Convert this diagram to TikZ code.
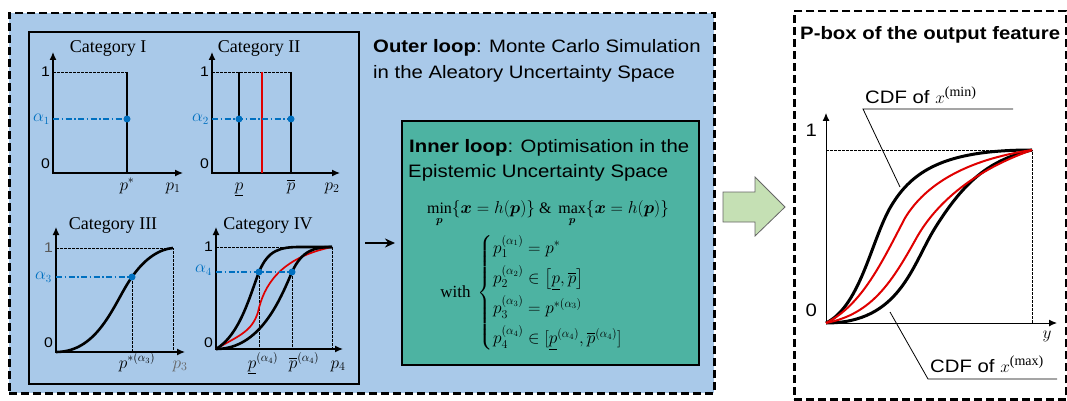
\documentclass[tikz,border=0pt]{standalone}
\usepackage{amsmath}
\usepackage{fontspec}
\setmainfont{Liberation Serif}
\newfontfamily\sfarial[FakeStretch=1.13]{Liberation Sans}
\usetikzlibrary{arrows.meta}
\definecolor{bgblue}{HTML}{A9C9E9}
\definecolor{tealbox}{HTML}{4DB3A2}
\definecolor{ablue}{HTML}{0070C0}
\definecolor{agreen}{HTML}{C5E0B4}
\definecolor{cred}{HTML}{E00000}
\begin{document}
\begin{tikzpicture}[x=1pt,y=-1pt,
  axis/.style={line width=1.3pt,{Latex[length=8pt,width=7pt]}-{Latex[length=8pt,width=7pt]}},
  guide/.style={line width=0.5pt,dash pattern=on 2.5pt off 1.5pt},
  alphaline/.style={ablue,line width=1.3pt,dash pattern=on 6pt off 2.5pt on 1.5pt off 2.5pt},
  dot/.style={circle,fill=ablue,inner sep=0pt,minimum size=7pt},
  cdf/.style={line width=2.6pt},
  rcdf/.style={cred,line width=1.7pt},
  ttl/.style={font=\fontsize{18}{20}\selectfont,anchor=base,inner sep=0pt},
  num/.style={font=\sfarial\fontsize{14}{16}\selectfont,anchor=east,inner sep=0pt},
  alab/.style={text=ablue,font=\fontsize{16}{18}\selectfont,anchor=east,inner sep=0pt},
  plab/.style={font=\fontsize{17}{19}\selectfont,anchor=base,inner sep=0pt},
  sftxt/.style={font=\sfarial\fontsize{18}{20}\selectfont,anchor=base west,inner sep=0pt},
  bigdash/.style={line width=2.5pt,dash pattern=on 8pt off 4pt},
  leader/.style={line width=0.8pt}
]
\useasboundingbox (0,0) rectangle (1067,401);
% ---------- frames ----------
\node[draw=black,fill=bgblue,bigdash,minimum width=705pt,minimum height=380pt,anchor=north west,inner sep=0pt] (outer) at (8,12) {};
\node[draw=black,line width=2pt,minimum width=330pt,minimum height=352pt,anchor=north west,inner sep=0pt] (graphs) at (28,31) {};
\node[draw=black,fill=tealbox,line width=2pt,minimum width=297pt,minimum height=244pt,anchor=north west,inner sep=0pt] (inner) at (401,120) {};
\node[draw=black,fill=white,bigdash,minimum width=272pt,minimum height=388pt,anchor=north west,inner sep=0pt] (pbox) at (793,10) {};

% ---------- Category I ----------
\node[ttl] (t1) at (108,53) {Category I};
\draw[guide] (53,72) -- (127,72);
\draw[axis] (53,52) -- (53,173) -- (183,173);
\draw[cdf] (127,72) -- (127,173);
\draw[alphaline] (53,119) -- (127,119);
\node[dot] (d1) at (127,119) {};
\node[num] (one1) at (50,72) {1};
\node[num] (zero1) at (50,164) {0};
\node[alab] (a1) at (50,119) {$\alpha_1$};
\node[plab] (ps1) at (127,190) {$p^{*}$};
\node[plab] (px1) at (173,190) {$p_1$};

% ---------- Category II ----------
\node[ttl] (t2) at (259,53) {Category II};
\draw[guide] (212,72) -- (291,72);
\draw[axis] (212,52) -- (212,173) -- (340,173);
\draw[cdf] (239,72) -- (239,173);
\draw[cdf] (291,72) -- (291,173);
\draw[rcdf] (262,72) -- (262,173);
\draw[alphaline] (212,119) -- (291,119);
\node[dot] (d2a) at (239,119) {};
\node[dot] (d2b) at (291,119) {};
\node[num] (one2) at (209,72) {1};
\node[num] (zero2) at (209,164) {0};
\node[alab] (a2) at (209,119) {$\alpha_2$};
\node[plab] (pl2) at (239,190) {$\underline{p}$};
\node[plab] (pu2) at (291,190) {$\overline{p}$};
\node[plab] (px2) at (332,190) {$p_2$};

% ---------- Category III ----------
\node[ttl] (t3) at (113,229) {Category III};
\draw[guide] (56,248) -- (173,248) -- (173,352);
\draw[guide] (132,277) -- (132,352);
\draw[axis] (56,227) -- (56,352) -- (185,352);
\draw[cdf] (56,352) .. controls (100,352) and (115,300) .. (132,277) .. controls (145,258) and (160,249) .. (173,248);
\draw[alphaline] (56,277) -- (132,277);
\node[dot] (d3) at (132,277) {};
\node[num,text=black!65] (one3) at (53,248) {1};
\node[num] (zero3) at (53,343) {0};
\node[alab] (a3) at (52,277) {$\alpha_3$};
\node[plab] (ps3) at (137,368) {$p^{*(\alpha_3)}$};
\node[plab,text=black!60] (px3) at (180,368) {$p_3$};

% ---------- Category IV ----------
\node[ttl] (t4) at (268,229) {Category IV};
\draw[guide] (216,247) -- (332,247) -- (332,349);
\draw[guide] (259,272) -- (259,349);
\draw[guide] (292,272) -- (292,349);
\draw[axis] (216,227) -- (216,349) -- (343,349);
\draw[rcdf] (216,349) .. controls (238,336) and (252,332) .. (258,312) .. controls (264,285) and (280,258) .. (332,247);
\draw[cdf] (216,349) .. controls (240,335) and (250,295) .. (259,272) .. controls (268,250) and (280,247) .. (300,247) -- (332,247);
\draw[cdf] (216,349) .. controls (260,349) and (280,300) .. (292,272) .. controls (302,250) and (315,247) .. (332,247);
\draw[alphaline] (216,272) -- (292,272);
\node[dot] (d4a) at (259,272) {};
\node[dot] (d4b) at (292,272) {};
\node[num] (one4) at (213,247) {1};
\node[num] (zero4) at (213,343) {0};
\node[alab] (a4) at (212,270) {$\alpha_4$};
\node[plab] (pl4) at (263,368) {$\underline{p}^{(\alpha_4)}$};
\node[plab] (pu4) at (304,368) {$\overline{p}^{(\alpha_4)}$};
\node[plab] (px4) at (338,368) {$p_4$};

% ---------- outer loop text ----------
\node[sftxt] (outerA) at (373,53) {\textbf{Outer loop}: Monte Carlo Simulation};
\node[sftxt] (outerB) at (373,79) {in the Aleatory Uncertainty Space};

% ---------- arrow to inner loop ----------
\draw[line width=2pt,-{Stealth[length=10pt,width=9pt]},shorten <=5pt,shorten >=6pt] (graphs.east |- inner.west) -- (inner.west);

% ---------- inner loop ----------
\node[sftxt] (innerA) at (409,152) {\textbf{Inner loop}: Optimisation in the};
\node[sftxt] (innerB) at (408,177) {Epistemic Uncertainty Space};
\node[font=\fontsize{16}{18}\selectfont,anchor=base,inner sep=0pt] (minmax) at (548,213)
  {$\min\limits_{\boldsymbol p}\{\boldsymbol x = h(\boldsymbol p)\}\ \&\ \max\limits_{\boldsymbol p}\{\boldsymbol x = h(\boldsymbol p)\}$};
\node[font=\fontsize{17}{20}\selectfont,inner sep=0pt] (cases) at (540,293)
  {$\text{with}\ \begin{cases} p_1^{(\alpha_1)} = p^{*} \\[5pt] p_2^{(\alpha_2)} \in \left[\underline{p}, \overline{p}\right] \\[5pt] p_3^{(\alpha_3)} = p^{*(\alpha_3)} \\[5pt] p_4^{(\alpha_4)} \in [\underline{p}^{(\alpha_4)}, \overline{p}^{(\alpha_4)}] \end{cases}$};

% ---------- green block arrow ----------
\draw[fill=agreen,draw=black!60,line width=0.8pt] (723,192) -- (755,192) -- (755,177) -- (785,207) -- (755,236) -- (755,222) -- (723,222) -- cycle;

% ---------- P-box ----------
\node[sftxt,font=\sfarial\bfseries\fontsize{18}{20}\selectfont] (ptitle) at (800,40) {P-box of the output feature};
\draw[guide] (826,150) -- (1032,150) -- (1032,323);
\draw[axis,line width=1pt] (826,113) -- (826,323) -- (1057,323);
\draw[cdf,line width=3pt] (826,323) .. controls (862,305) and (872,235) .. (893,203) .. controls (915,168) and (950,150) .. (1032,150);
\draw[cdf,line width=3pt] (826,323) .. controls (900,323) and (912,265) .. (935,228) .. controls (965,180) and (990,160) .. (1032,150);
\draw[rcdf,line width=2pt] (826,323) .. controls (862,305) and (882,262) .. (905,218) .. controls (925,185) and (965,160) .. (1032,150);
\draw[rcdf,line width=2pt] (826,323) .. controls (872,314) and (892,282) .. (917,237) .. controls (937,202) and (975,170) .. (1032,150);
\node[num,font=\sfarial\fontsize{18}{20}\selectfont] (pone) at (817,130) {1};
\node[num,font=\sfarial\fontsize{18}{20}\selectfont] (pzero) at (817,310) {0};
\node[plab,font=\fontsize{19}{21}\selectfont] (py) at (1047,338) {$y$};
\node[sftxt] (cmin) at (865,103) {CDF of $x^{\textrm{\fontsize{14}{16}\selectfont(min)}}$};
\node[sftxt] (cmax) at (930,372) {CDF of $x^{\textrm{\fontsize{14}{16}\selectfont(max)}}$};
\coordinate (lminA) at (900,187);
\coordinate (lminB) at (863,109);
\coordinate (lminC) at (1013,109);
\coordinate (lmaxA) at (890,312);
\coordinate (lmaxB) at (928,379);
\coordinate (lmaxC) at (1057,379);
\draw[leader] (lminA) -- (lminB) -- (lminC);
\draw[leader] (lmaxA) -- (lmaxB) -- (lmaxC);
\end{tikzpicture}
\end{document}
